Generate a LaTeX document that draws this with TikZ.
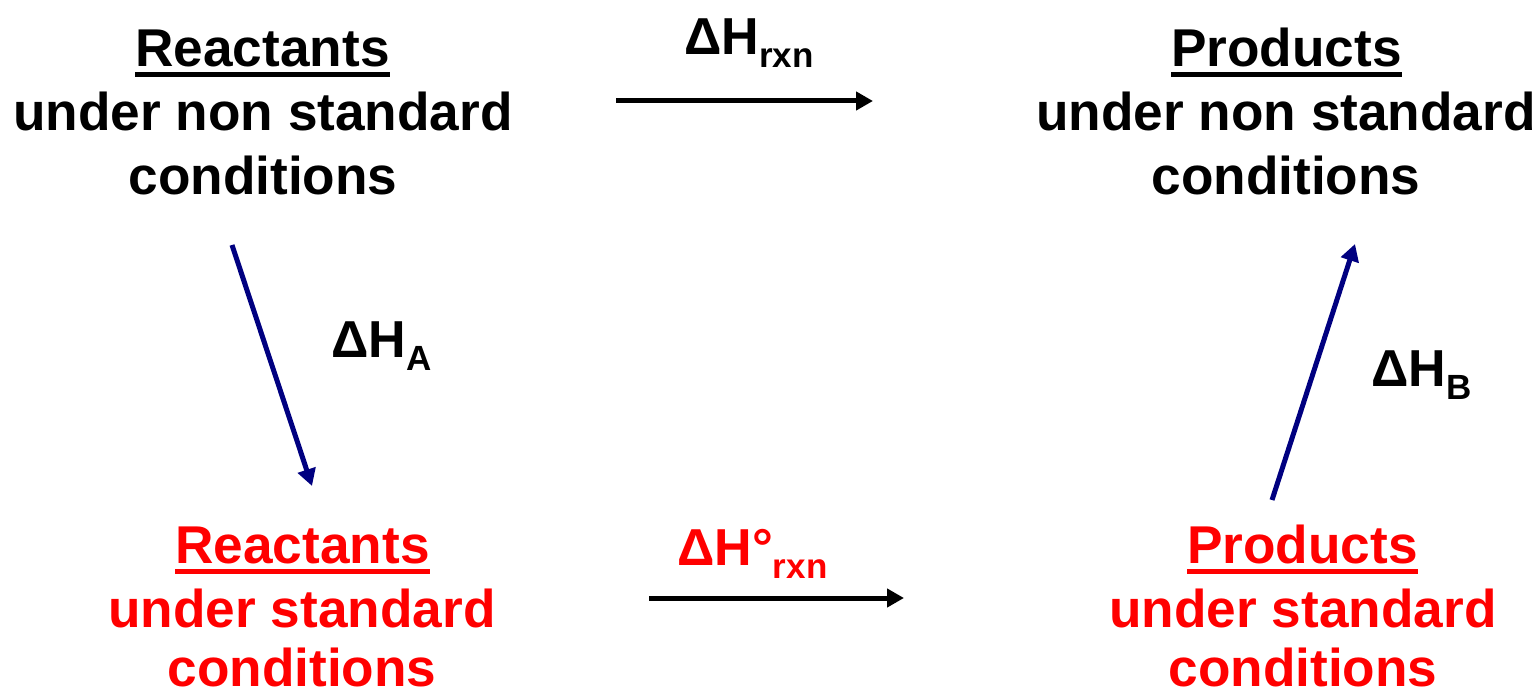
\documentclass[tikz,border=0pt]{standalone}
\usepackage{fontspec}
\setmainfont{Liberation Sans}
\usetikzlibrary{arrows.meta}
\definecolor{pathblue}{RGB}{0,0,128}
\definecolor{stdred}{RGB}{255,0,0}
% lowered subscript used in the enthalpy labels
\newcommand\enthsub[1]{\raisebox{-13pt}{\fontsize{35}{35}\selectfont #1}}
\begin{document}
\begin{tikzpicture}[x=1pt,y=-1pt,
  txt/.style={font=\fontsize{53.2}{62}\selectfont\bfseries, inner sep=0pt, anchor=base},
  lbl/.style={font=\fontsize{52}{62}\selectfont\bfseries, inner sep=0pt, anchor=base west},
  uline/.style={line width=5pt},
  flow/.style={line width=5pt, -{Triangle[length=17pt,width=18pt]}}]
\useasboundingbox (0,0) rectangle (1539,692);

% reactants, non standard
\node[txt] (rn1) at (262.5,67) {Reactants};
\node[txt] (rn2) at (263,131) {under non standard};
\node[txt] (rn3) at (263,195) {conditions};
\draw[uline] ([yshift=-8pt]rn1.base west) -- ([yshift=-8pt]rn1.base east);

% products, non standard
\node[txt] (pn1) at (1286.5,67) {Products};
\node[txt] (pn2) at (1286,131) {under non standard};
\node[txt] (pn3) at (1286,195) {conditions};
\draw[uline] ([yshift=-8pt]pn1.base west) -- ([yshift=-8pt]pn1.base east);

% reactants, standard
\node[txt, text=stdred] (rs1) at (302.5,563) {Reactants};
\node[txt, text=stdred] (rs2) at (302,627) {under standard};
\node[txt, text=stdred, text depth=0pt] (rs3) at (302,686) {conditions};
\draw[uline, stdred] ([yshift=-8pt]rs1.base west) -- ([yshift=-8pt]rs1.base east);

% products, standard
\node[txt, text=stdred] (ps1) at (1302.5,563) {Products};
\node[txt, text=stdred] (ps2) at (1303,627) {under standard};
\node[txt, text=stdred, text depth=0pt] (ps3) at (1303,686) {conditions};
\draw[uline, stdred] ([yshift=-8pt]ps1.base west) -- ([yshift=-8pt]ps1.base east);

% enthalpy labels
\node[lbl] (hrxn) at (684,55) {ΔH\enthsub{rxn}};
\node[lbl, text=stdred] (hstd) at (677,565) {ΔH°\enthsub{rxn}};
\node[lbl] (ha) at (331,358) {ΔH\enthsub{A}};
\node[lbl] (hb) at (1371,387) {ΔH\enthsub{B}};

% arrows
\coordinate (top1) at (616,101);
\coordinate (top2) at (873,101);
\coordinate (bot1) at (649,598);
\coordinate (bot2) at (904,598);
\coordinate (dl1) at (232,245);
\coordinate (dl2) at (312,486);
\coordinate (dr1) at (1272,500);
\coordinate (dr2) at (1355,244);
\draw[flow] (top1) -- (top2);
\draw[flow] (bot1) -- (bot2);
\draw[flow, pathblue] (dl1) -- (dl2);
\draw[flow, pathblue] (dr1) -- (dr2);
\end{tikzpicture}
\end{document}
